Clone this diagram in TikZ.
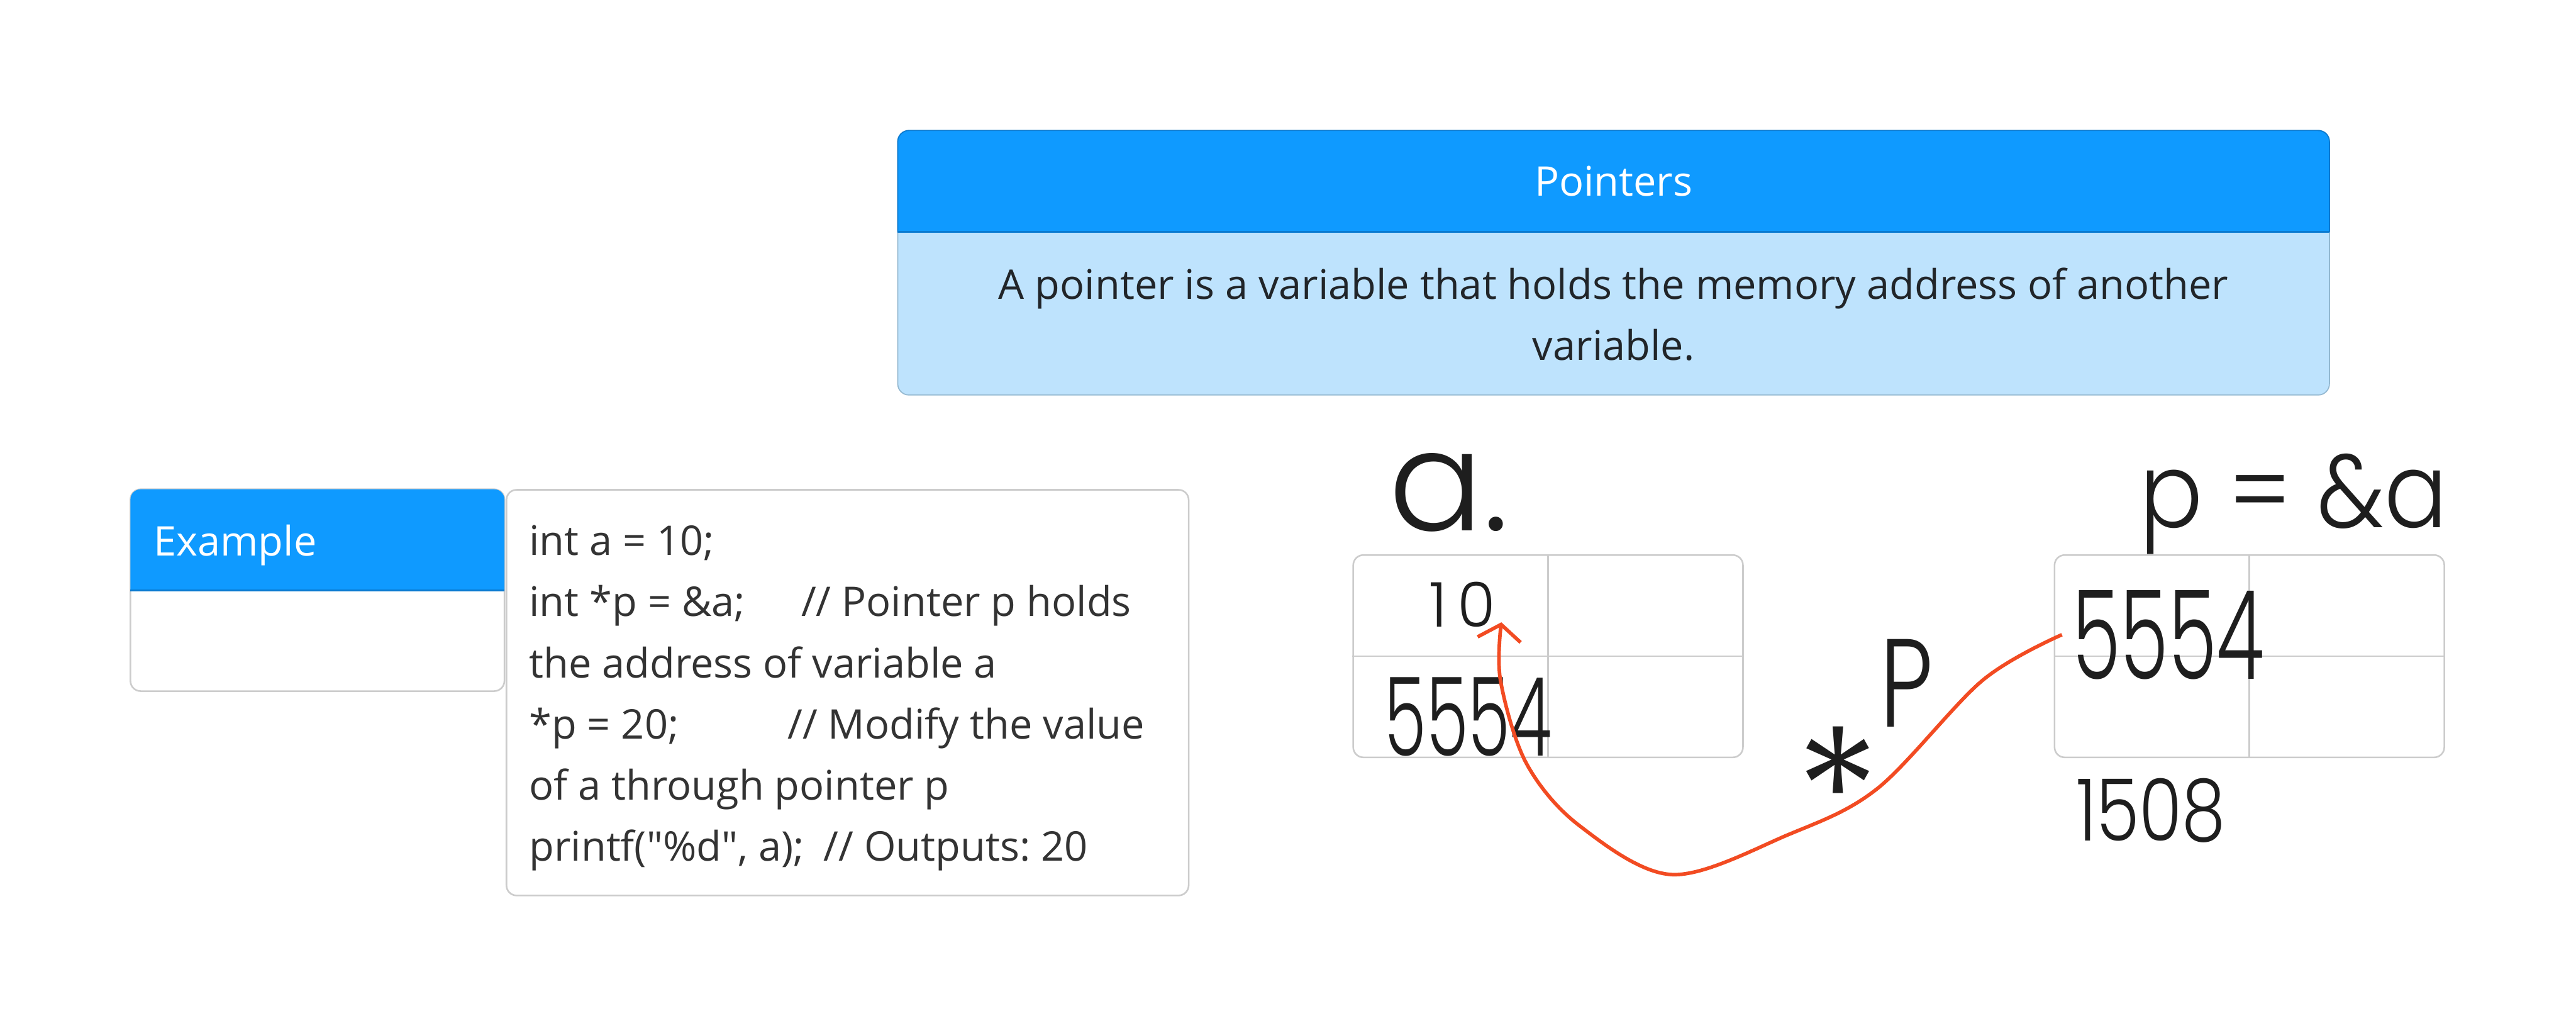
\documentclass[tikz,border=0pt]{standalone}
\usepackage{fontspec}
\setmainfont{Open Sans}[Ligatures=TeXOff]
\newfontfamily\handfont{Poppins}[UprightFont=* Light]
\usepackage{graphicx}
\frenchspacing
\definecolor{ptrblue}{RGB}{15,154,255}
\definecolor{ptrblueline}{RGB}{10,122,208}
\definecolor{ptrlight}{RGB}{190,227,253}
\definecolor{ptrlightline}{RGB}{148,184,208}
\definecolor{boxgray}{RGB}{204,204,204}
\definecolor{txtdark}{RGB}{33,37,41}
\definecolor{codetxt}{RGB}{51,51,51}
\definecolor{inkred}{RGB}{242,75,34}
\definecolor{inkblack}{RGB}{30,30,30}
\usetikzlibrary{arrows.meta,positioning}

\begin{document}
\begin{tikzpicture}[x=1cm,y=-1cm,
  uitext/.style={font=\fontsize{22.8}{34.1}\selectfont,inner sep=0pt},
  panel/.style={draw=boxgray,line width=0.9pt,fill=white,rounded corners=0.2cm},
  grid/.style={draw=boxgray,line width=0.9pt,rounded corners=0.2cm,minimum width=7.65cm,minimum height=3.97cm},
  hand/.style={text=inkblack,inner sep=0pt,anchor=base west},
  ptrarrow/.style={inkred,line width=2pt,-{Straight Barb[length=0.3cm,width=0.85cm]}}
]
  \useasboundingbox (0,0) rectangle (50.56,20.16);

  % Pointers card
  \node[draw=ptrlightline,line width=0.6pt,fill=ptrlight,rounded corners=0.22cm,
    minimum width=28.1cm,minimum height=5.19cm] (ptrcard) at (31.67,5.155) {};
  \path[fill=ptrblue,draw=ptrblueline,line width=0.6pt,rounded corners=0.22cm]
    (17.62,4.55) -- (17.62,2.56) -- (45.72,2.56) -- (45.72,4.55);
  \draw[ptrblueline,line width=0.9pt] (17.62,4.55) -- (45.72,4.55);
  \node[uitext,text=white] (ptrtitle) at (31.67,3.555) {Pointers};
  \node[uitext,text=txtdark,align=center,anchor=base] (ptrdef) at (31.67,7.07)
    {A pointer is a variable that holds the memory address of another\\variable.};

  % Example card
  \node[panel,minimum width=7.34cm,minimum height=3.96cm] (excard) at (6.23,11.58) {};
  \path[fill=ptrblue,rounded corners=0.2cm]
    (2.56,11.585) -- (2.56,9.60) -- (9.90,9.60) -- (9.90,11.585);
  \draw[ptrblueline,line width=0.9pt] (2.56,11.585) -- (9.90,11.585);
  \node[uitext,text=white,anchor=base west] (extitle) at (3.01,10.91) {Example};

  % code panel
  \node[panel,minimum width=13.39cm,minimum height=7.96cm] (codebox) at (16.635,13.59) {};
  \node[uitext,text=codetxt,align=left,anchor=base west] (code) at (10.38,16.89)
    {int a = 10;\\
     \makebox[5.34cm][l]{int *p = \&a;}// Pointer p holds\\
     the address of variable a\\
     \makebox[5.07cm][l]{*p = 20;}// Modify the value\\
     of a through pointer p\\
     \makebox[5.78cm][l]{printf("\%d", a);}// Outputs: 20};

  % memory cells
  \node[grid] (cella) at (30.385,12.875) {};
  \draw[boxgray,line width=0.9pt] (cella.north) -- (cella.south);
  \draw[boxgray,line width=0.9pt] (cella.west) -- (cella.east);
  \node[grid] (cellp) at (44.15,12.875) {};
  \draw[boxgray,line width=0.9pt] (cellp.north) -- (cellp.south);
  \draw[boxgray,line width=0.9pt] (cellp.west) -- (cellp.east);

  % handwriting
  \node[hand,font=\handfont\fontsize{78}{78}\selectfont] (vara) at (27.25,10.41) {a.};
  \node[hand,font=\handfont\fontsize{58}{58}\selectfont] (ptrdecl) at (41.99,10.35) {\scalebox{0.9}[1]{p = \&a}};
  \node[hand,font=\handfont\fontsize{34.5}{34.5}\selectfont] (vala) at (28.05,12.30) {1\,0};
  \node[hand,font=\handfont\fontsize{61}{61}\selectfont] (addra) at (27.17,14.83) {\scalebox{0.62}[1]{5554}};
  \node[hand,font=\handfont\fontsize{69}{69}\selectfont] (addrp) at (40.67,13.32) {\scalebox{0.63}[1]{5554}};
  \node[hand,font=\handfont\fontsize{70}{70}\selectfont] (deref) at (35.24,15.59)
    {\raisebox{-1.24cm}{\fontsize{100}{100}\selectfont *}\raisebox{1.33cm}{\scalebox{0.75}[1]{P}}};
  \node[hand,font=\handfont\fontsize{48}{48}\selectfont] (addrnum) at (40.74,16.50) {\scalebox{0.81}[1]{1508}};

  % pointer arrow
  \draw[ptrarrow] plot[smooth,tension=0.55] coordinates {([xshift=-2mm]addrp.west) (38.91,13.35)
    (36.85,15.47) (35.09,16.38) (32.82,17.16) (31.0,16.2) (29.96,14.98) (29.45,13.35)
    ([xshift=1mm,yshift=1mm]vala.south east)};
\end{tikzpicture}
\end{document}
